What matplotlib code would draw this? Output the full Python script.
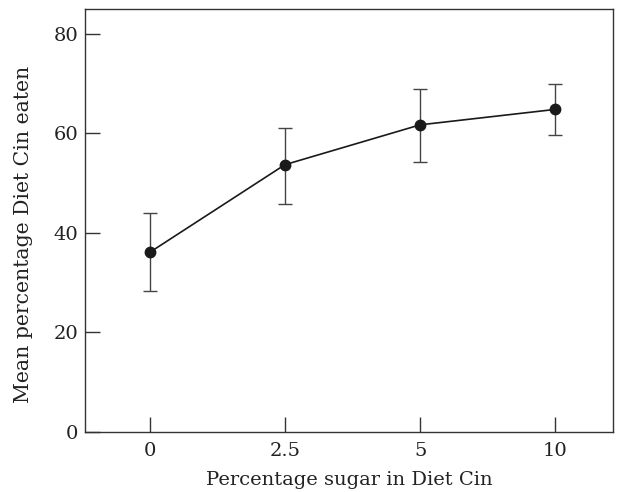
import matplotlib
matplotlib.use('Agg')
import matplotlib.pyplot as plt
import numpy as np

# data
sugar_labels = ['0', '2.5', '5', '10']
mean_eaten = [36.1, 53.7, 61.7, 64.8]
err_low = [28.3, 45.7, 54.2, 59.7]
err_high = [43.9, 61.0, 69.0, 69.9]

plt.rcParams['font.family'] = ['DejaVu Serif']

fig = plt.figure(figsize=(6.18, 4.92), dpi=100)
ax = fig.add_axes([0.1375, 0.122, 0.855, 0.86])

x = np.arange(len(sugar_labels))
y = np.array(mean_eaten)
yerr = [y - np.array(err_low), np.array(err_high) - y]

ax.errorbar(x, y, yerr=yerr, fmt='none', ecolor='#444444', elinewidth=1.0,
            capsize=5, capthick=1.0, zorder=2)
ax.plot(x, y, color='#1a1a1a', lw=1.2, marker='o', ms=7.5, mfc='#1a1a1a',
        mec='#1a1a1a', zorder=3)

ax.set_xlim(-0.48, 3.43)
ax.set_ylim(0, 85)
ax.set_xticks(x)
ax.set_xticklabels(sugar_labels)
ax.set_yticks([0, 20, 40, 60, 80])

ax.tick_params(axis='both', direction='in', length=11, width=1, color='#333333',
               labelsize=14, labelcolor='#222222')
ax.tick_params(axis='x', pad=7)
ax.tick_params(axis='y', pad=5)
for s in ax.spines.values():
    s.set_color('#333333')
    s.set_linewidth(1)

ax.set_xlabel('Percentage sugar in Diet Cin', fontsize=14, color='#222222', labelpad=8)
ax.set_ylabel('Mean percentage Diet Cin eaten', fontsize=14.7, color='#222222')
ax.yaxis.set_label_coords(-0.098, 0.466)

fig.savefig('out.png', dpi=100)
